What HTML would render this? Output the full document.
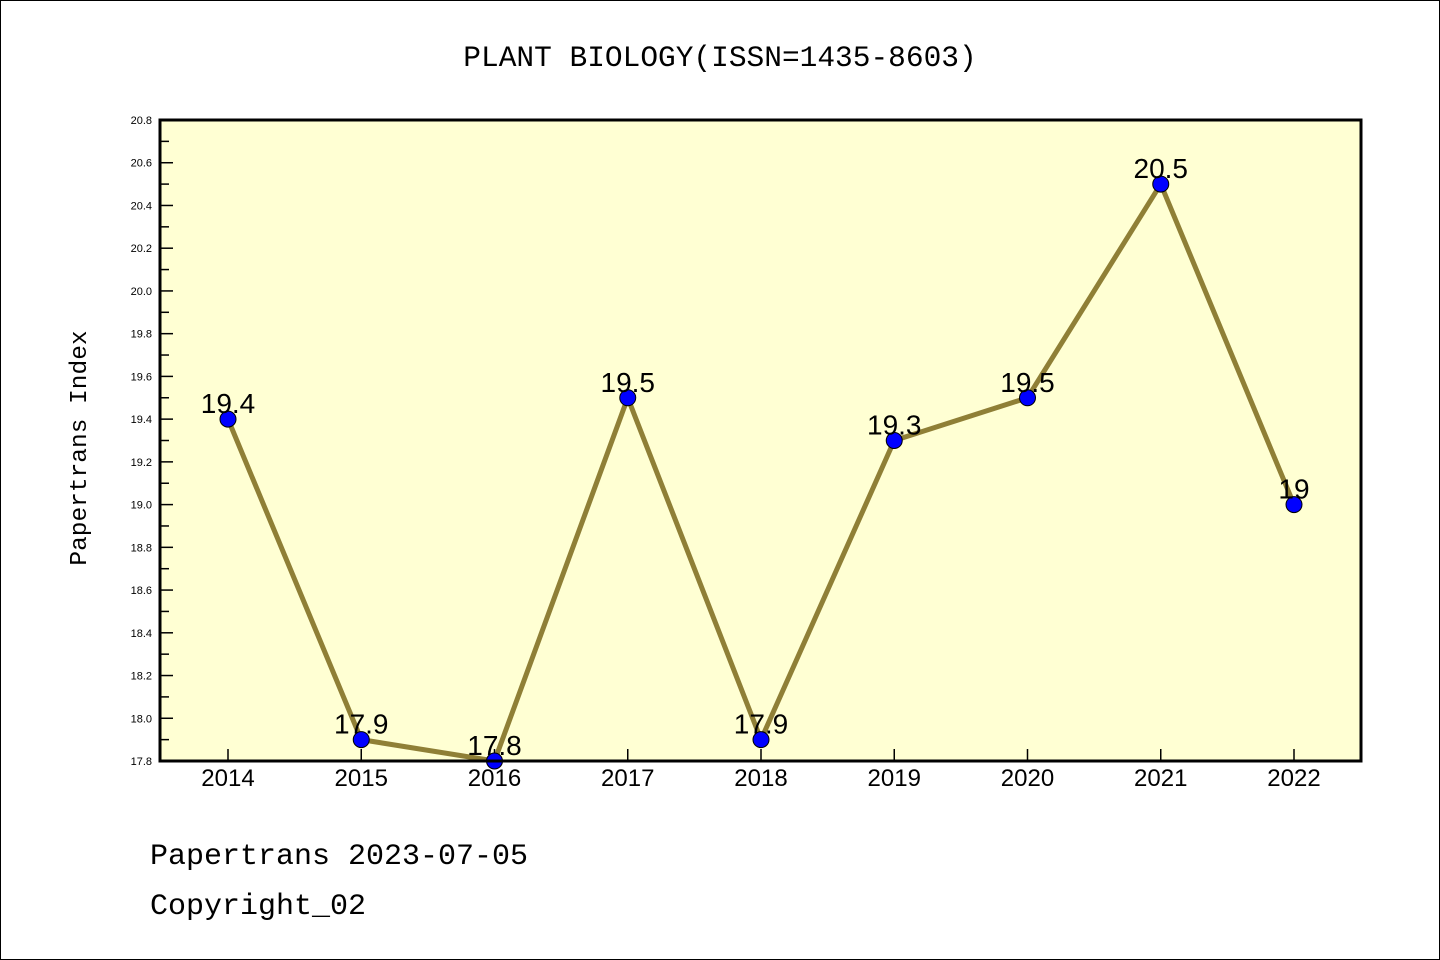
<!DOCTYPE html>
<html><head><meta charset="utf-8"><style>
body{margin:0;background:#fff;}
svg{display:block;font-family:"Liberation Sans","Noto Sans CJK SC",sans-serif;}
</style></head><body>
<svg id="c" width="1440" height="960" xmlns="http://www.w3.org/2000/svg">
<rect x="0.5" y="0.5" width="1439" height="959" fill="#fff" stroke="#000"/>
<text x="720" y="66" text-anchor="middle" font-size="29.5" font-family="Liberation Mono, monospace">PLANT BIOLOGY(ISSN=1435-8603)</text>
<rect x="160" y="120" width="1201" height="641" fill="#ffffd3"/>
<g id="axes"></g>
<g id="series"></g>
<rect x="160" y="120" width="1201" height="641" fill="none" stroke="#000" stroke-width="3"/>
<text x="86" y="448" text-anchor="middle" font-size="24.5" font-family="Liberation Mono, monospace" transform="rotate(-90 86 448)">Papertrans Index</text>
<text x="150" y="864" font-size="30" font-family="Liberation Mono, monospace">Papertrans 2023-07-05</text>
<text x="150" y="914" font-size="30" font-family="Liberation Mono, monospace">Copyright_02</text>
</svg>
<script>
const years=["2014","2015","2016","2017","2018","2019","2020","2021","2022"];
const values=[19.4,17.9,17.8,19.5,17.9,19.3,19.5,20.5,19.0];
const valueLabels=["19.4","17.9","17.8","19.5","17.9","19.3","19.5","20.5","19"];
const yTicks=["17.8","18.0","18.2","18.4","18.6","18.8","19.0","19.2","19.4","19.6","19.8","20.0","20.2","20.4","20.6","20.8"];
const NS="http://www.w3.org/2000/svg";
const yMin=17.8,yMax=20.8,yTop=120,yBot=761;
const yS=v=>yBot-(v-yMin)/(yMax-yMin)*(yBot-yTop);
const xS=i=>228+i*(1294-228)/(years.length-1);
function mk(t,a,p){const e=document.createElementNS(NS,t);for(const k in a)e.setAttribute(k,a[k]);p.appendChild(e);return e;}
const ax=document.getElementById('axes'),se=document.getElementById('series');
yTicks.forEach((t,i)=>{const v=parseFloat(t),yy=yS(v);
 const tk=mk('line',{x1:160,x2:173,y1:yy,y2:yy,stroke:'#000','stroke-width':1.5},ax);
 
 
 const tx=mk('text',{x:152,y:yy+4,'text-anchor':'end','font-size':11},ax);tx.textContent=t;
 
 
 if(i<yTicks.length-1){const ym=yS(v+0.1);
  const m=mk('line',{x1:160,x2:169,y1:ym,y2:ym,stroke:'#000','stroke-width':1.5},ax);
  
  }
});
years.forEach((yr,i)=>{const xx=xS(i);
 const tk=mk('line',{x1:xx,x2:xx,y1:761,y2:749,stroke:'#000','stroke-width':1.5},ax);
 
 
 const tx=mk('text',{x:xx,y:786,'text-anchor':'middle','font-size':24},ax);tx.textContent=yr;
 
 
});
const pl=mk('polyline',{points:values.map((v,i)=>xS(i)+','+yS(v)).join(' '),fill:'none',stroke:'#8f7f36','stroke-width':5,'stroke-linejoin':'round'},se);


values.forEach((v,i)=>{
 const c=mk('circle',{cx:xS(i),cy:yS(v),r:8,fill:'#0000ff',stroke:'#000','stroke-width':1},se);
 
 
 const t=mk('text',{x:xS(i),y:yS(v)-6,'text-anchor':'middle','font-size':28},se);t.textContent=valueLabels[i];
 
 
});
</script>
</body></html>
